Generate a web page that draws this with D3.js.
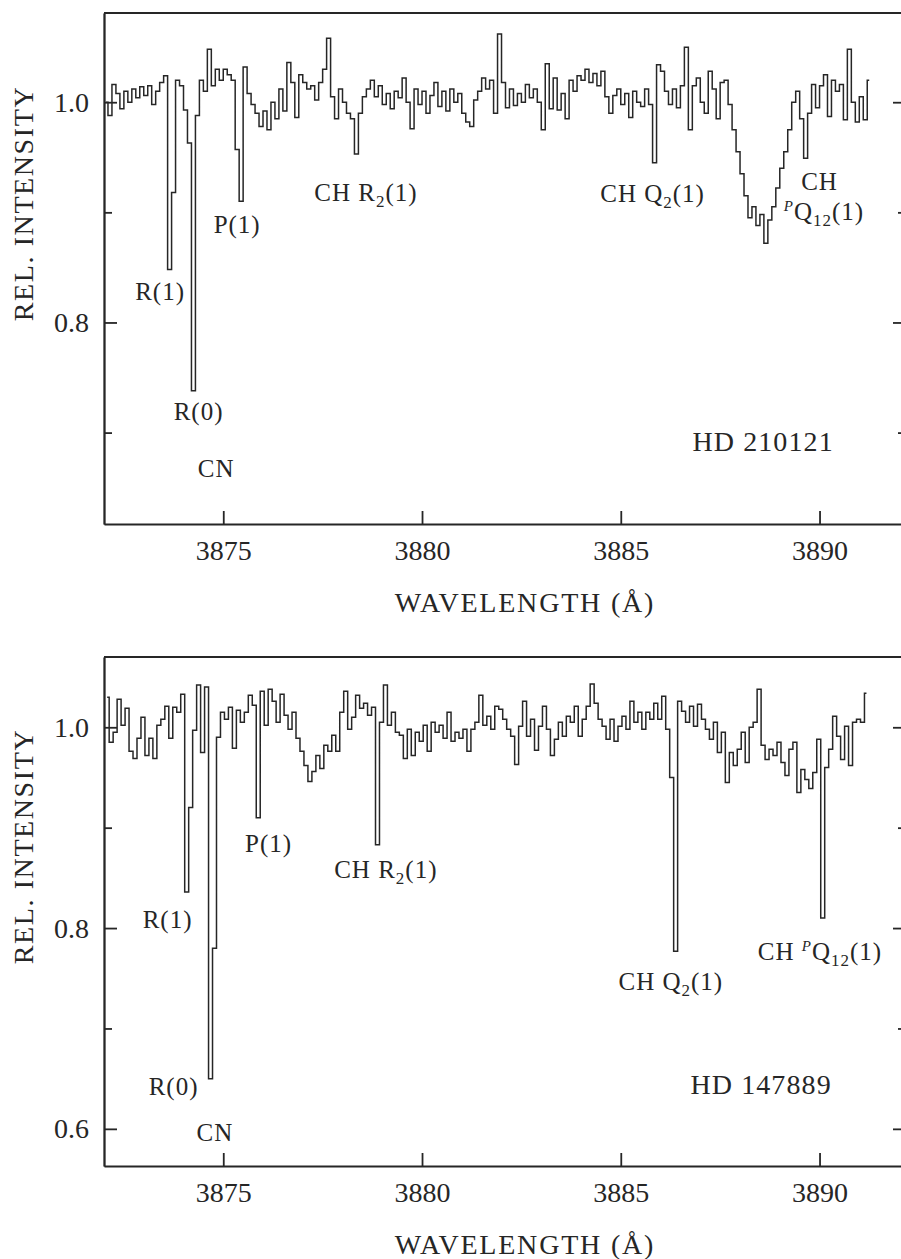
<!DOCTYPE html>
<html>
<head>
<meta charset="utf-8">
<script src="https://cdn.jsdelivr.net/npm/d3@7"></script>
<style>
body{margin:0;background:#fff;}
svg text{font-family:"Liberation Serif","Times New Roman",serif;fill:#262626;}
</style>
</head>
<body>
<svg id="chart" width="901" height="1259"></svg>
<script>
// spectra sampled every 0.1 A
var waveStep = 0.1;
var topWaveStart = 3872.05;
var topFlux = [
  1.000, 0.988, 1.016, 1.008, 0.994, 1.010, 1.000, 1.012, 1.004, 1.014,
  1.006, 1.015, 0.998, 1.010, 1.018, 1.024, 0.848, 0.918, 1.020, 1.015,
  0.993, 0.963, 0.738, 0.988, 1.020, 1.010, 1.048, 1.015, 1.030, 1.020,
  1.030, 1.025, 1.020, 0.957, 0.910, 1.032, 1.008, 0.998, 0.990, 0.978,
  0.992, 0.975, 1.000, 0.985, 1.012, 0.992, 1.036, 1.018, 0.986, 1.025,
  1.018, 1.012, 1.015, 1.002, 1.018, 1.030, 1.058, 1.005, 0.985, 1.012,
  1.000, 0.990, 0.985, 0.953, 0.990, 1.005, 1.012, 1.020, 1.005, 1.015,
  0.998, 1.008, 0.994, 1.010, 1.004, 1.022, 1.000, 0.976, 1.012, 0.998,
  1.010, 0.990, 1.006, 1.018, 0.996, 1.010, 0.992, 1.012, 1.000, 1.008,
  0.990, 0.982, 0.978, 1.002, 1.010, 1.022, 1.012, 1.020, 0.990, 1.062,
  1.018, 0.995, 1.012, 0.997, 1.008, 1.000, 1.016, 1.004, 1.012, 1.000,
  0.975, 1.035, 0.994, 1.022, 0.993, 1.008, 0.985, 1.020, 1.010, 1.024,
  1.020, 1.030, 1.018, 1.026, 1.015, 1.028, 1.005, 0.990, 1.006, 1.012,
  0.998, 1.008, 0.986, 1.010, 1.000, 0.996, 1.012, 0.998, 0.945, 1.034,
  1.028, 1.010, 0.998, 1.012, 0.995, 1.015, 1.050, 0.975, 1.015, 1.022,
  1.000, 0.990, 1.028, 1.012, 0.985, 1.018, 1.020, 0.998, 0.975, 0.955,
  0.935, 0.915, 0.895, 0.905, 0.888, 0.898, 0.872, 0.893, 0.905, 0.922,
  0.940, 0.955, 0.975, 1.000, 1.010, 0.985, 0.949, 0.990, 1.016, 0.995,
  1.015, 1.025, 0.987, 1.020, 1.010, 1.016, 0.984, 1.048, 1.000, 0.982,
  1.005, 0.984, 1.020
];
var bottomWaveStart = 3872.08;
var bottomFlux = [
  1.030, 0.985, 0.995, 1.028, 1.002, 1.019, 0.976, 0.969, 0.989, 1.010,
  0.972, 0.989, 0.969, 1.002, 1.008, 1.021, 0.989, 1.020, 1.015, 1.033,
  0.836, 0.920, 0.997, 1.042, 0.975, 1.040, 0.650, 0.780, 0.990, 1.015,
  1.008, 1.020, 0.979, 1.017, 1.005, 1.015, 1.032, 1.022, 0.910, 1.036,
  1.002, 1.038, 1.026, 1.005, 1.033, 1.012, 0.998, 1.015, 0.989, 0.976,
  0.962, 0.946, 0.956, 0.972, 0.959, 0.982, 0.976, 0.992, 0.976, 1.015,
  1.036, 0.998, 1.010, 1.032, 1.019, 1.024, 1.012, 1.020, 0.883, 1.005,
  1.042, 1.002, 1.015, 0.995, 0.992, 0.969, 0.998, 0.972, 0.995, 0.986,
  1.002, 0.976, 1.005, 0.995, 1.002, 0.989, 1.015, 0.986, 0.995, 0.989,
  0.998, 0.976, 0.998, 1.005, 1.032, 1.002, 1.011, 0.998, 1.021, 1.018,
  1.008, 0.998, 0.991, 0.963, 1.001, 1.026, 0.991, 1.008, 0.977, 1.001,
  1.021, 0.998, 0.972, 0.988, 1.005, 0.991, 1.011, 1.005, 1.021, 0.991,
  1.008, 1.021, 1.043, 1.024, 1.008, 1.001, 0.988, 1.008, 0.986, 1.001,
  1.011, 0.998, 1.026, 1.005, 1.015, 0.998, 1.015, 1.008, 1.024, 1.008,
  1.031, 0.998, 0.950, 0.777, 1.026, 1.016, 1.005, 1.021, 1.001, 1.023,
  1.008, 0.998, 0.988, 1.005, 0.975, 0.995, 0.945, 0.975, 0.962, 0.978,
  0.995, 0.965, 1.000, 1.005, 1.038, 0.982, 0.968, 0.978, 0.972, 0.985,
  0.965, 0.952, 0.978, 0.985, 0.935, 0.958, 0.948, 0.939, 0.955, 0.988,
  0.810, 0.960, 0.978, 1.011, 0.991, 0.968, 1.001, 0.962, 1.005, 1.008,
  1.005, 1.034
];

var xTicks = [3875, 3880, 3885, 3890];
var topMajor = [1.0, 0.8];
var topMinor = [0.9, 0.7];
var bottomMajor = [1.0, 0.8, 0.6];
var bottomMinor = [0.9, 0.7];

// line identifications: text pieces, wavelength and level they sit at
var topNotes = [
  {parts: [["R(1)"]], wave: 3873.41, flux: 0.820},
  {parts: [["R(0)"]], wave: 3874.38, flux: 0.711},
  {parts: [["CN"]], wave: 3874.82, flux: 0.660},
  {parts: [["P(1)"]], wave: 3875.35, flux: 0.881},
  {parts: [["CH R"], ["2", "sub"], ["(1)"]], wave: 3878.59, flux: 0.910},
  {parts: [["CH Q"], ["2", "sub"], ["(1)"]], wave: 3885.80, flux: 0.909},
  {parts: [["CH"]], wave: 3890.00, flux: 0.920},
  {parts: [["P", "sup"], ["Q"], ["12", "sub"], ["(1)"]], wave: 3890.11, flux: 0.893}
];
var bottomNotes = [
  {parts: [["R(1)"]], wave: 3873.60, flux: 0.800},
  {parts: [["R(0)"]], wave: 3873.75, flux: 0.634},
  {parts: [["CN"]], wave: 3874.79, flux: 0.588},
  {parts: [["P(1)"]], wave: 3876.14, flux: 0.876},
  {parts: [["CH R"], ["2", "sub"], ["(1)"]], wave: 3879.09, flux: 0.850},
  {parts: [["CH Q"], ["2", "sub"], ["(1)"]], wave: 3886.26, flux: 0.738},
  {parts: [["CH "], ["P", "sup"], ["Q"], ["12", "sub"], ["(1)"]], wave: 3890.01, flux: 0.768}
];
var topStar = {name: "HD 210121", wave: 3888.58, flux: 0.683};
var bottomStar = {name: "HD 147889", wave: 3888.53, flux: 0.635};

var svg = d3.select("#chart");
var ink = "#262626";

function richText(sel, parts){
    var shift = 0;
    parts.forEach(function(p){
        var target = p[1] == "sub" ? 6 : (p[1] == "sup" ? -9 : 0);
        var t = sel.append("tspan").text(p[0]).attr("dy", target - shift);
        if(p[1] == "sub") t.attr("font-size", 17);
        if(p[1] == "sup") t.attr("font-size", 15).attr("font-style", "italic");
        shift = target;
    });
}

function drawPanel(paras){
    var top = paras.top, bottom = paras.bottom;
    var x = d3.scaleLinear().domain([3872, 3892.175]).range([104, 906]);
    var y = d3.scaleLinear().domain(paras.yDomain).range([bottom, top]);
    var g = svg.append("g");

    var pts = paras.flux.map(function(f, i){ return [paras.waveStart + i * waveStep, f]; });
    var line = d3.line()
        .x(function(d){ return x(d[0]); })
        .y(function(d){ return y(d[1]); })
        .curve(d3.curveStep);
    g.append("path")
        .datum(pts)
        .attr("d", line)
        .attr("fill", "none")
        .attr("stroke", ink)
        .attr("stroke-width", 1.5);

    // frame with inward ticks
    var axes = [
        d3.axisBottom(x).tickValues(xTicks).tickSizeInner(-13).tickPadding(16).tickFormat(d3.format("d")),
        d3.axisLeft(y).tickValues(paras.major).tickSizeInner(-13).tickPadding(15).tickFormat(d3.format(".1f")),
        d3.axisLeft(y).tickValues(paras.minor).tickSizeInner(-8).tickFormat(""),
        d3.axisRight(y).tickValues(paras.major).tickSizeInner(-13).tickFormat(""),
        d3.axisRight(y).tickValues(paras.minor).tickSizeInner(-8).tickFormat("")
    ];
    var shifts = [[0, bottom], [104, 0], [104, 0], [906, 0], [906, 0]];
    axes.forEach(function(ax, k){
        var a = g.append("g")
            .attr("transform", `translate(${shifts[k][0]}, ${shifts[k][1]})`)
            .attr("color", ink)
            .call(ax.tickSizeOuter(0));
        a.attr("font-family", null).attr("font-size", 28);
        a.selectAll("path, line").attr("stroke-width", 1.8);
    });
    g.append("line")
        .attr("x1", 104).attr("x2", 906)
        .attr("y1", top).attr("y2", top)
        .attr("stroke", ink).attr("stroke-width", 1.8);

    g.selectAll("text.note")
        .data(paras.notes)
        .join("text")
        .attr("class", "note")
        .attr("x", function(d){ return x(d.wave); })
        .attr("y", function(d){ return y(d.flux); })
        .attr("text-anchor", "middle")
        .attr("font-size", 25)
        .attr("letter-spacing", 1)
        .each(function(d){ richText(d3.select(this), d.parts); });

    g.append("text")
        .attr("x", x(paras.star.wave))
        .attr("y", y(paras.star.flux))
        .attr("text-anchor", "middle")
        .attr("font-size", 28)
        .attr("letter-spacing", 1.1)
        .text(paras.star.name);

    g.append("text")
        .attr("x", 525)
        .attr("y", bottom + 88)
        .attr("text-anchor", "middle")
        .attr("font-size", 28)
        .attr("letter-spacing", 1.8)
        .text("WAVELENGTH (Å)");

    g.append("text")
        .attr("transform", `translate(33, ${(top + bottom) / 2 - 65}) rotate(-90)`)
        .attr("text-anchor", "middle")
        .attr("font-size", 28)
        .attr("letter-spacing", 1.6)
        .text("REL. INTENSITY");
}

drawPanel({top: 13, bottom: 524, yDomain: [0.617, 1.081], flux: topFlux, waveStart: topWaveStart,
    major: topMajor, minor: topMinor, notes: topNotes, star: topStar});
drawPanel({top: 657, bottom: 1166, yDomain: [0.563, 1.070], flux: bottomFlux, waveStart: bottomWaveStart,
    major: bottomMajor, minor: bottomMinor, notes: bottomNotes, star: bottomStar});
</script>
</body>
</html>
